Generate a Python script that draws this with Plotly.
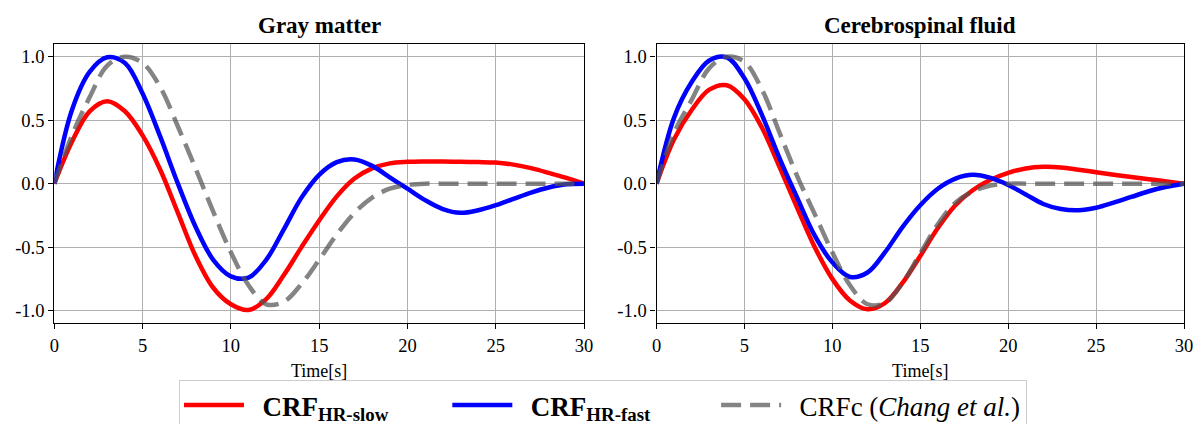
import plotly.graph_objects as go

# ---------------- data ----------------
time_s = list(range(31))

gm_slow = [0.0, 0.33, 0.57, 0.65, 0.57, 0.38, 0.11, -0.23, -0.57, -0.82, -0.95,
           -0.995, -0.91, -0.72, -0.5, -0.29, -0.1, 0.04, 0.12, 0.16, 0.172,
           0.175, 0.175, 0.172, 0.17, 0.166, 0.15, 0.122, 0.085, 0.045, 0.0]
gm_fast = [0.0, 0.58, 0.88, 0.995, 0.95, 0.71, 0.37, 0.0, -0.34, -0.6, -0.73,
           -0.74, -0.6, -0.36, -0.11, 0.07, 0.17, 0.19, 0.14, 0.05, -0.04,
           -0.13, -0.2, -0.23, -0.21, -0.17, -0.12, -0.07, -0.03, -0.005, 0.0]
gm_chang = [0.0, 0.38, 0.68, 0.93, 1.0, 0.95, 0.76, 0.45, 0.12, -0.22, -0.54,
            -0.8, -0.95, -0.93, -0.79, -0.6, -0.4, -0.23, -0.11, -0.04, -0.01,
            0.0, 0.0, 0.0, 0.0, 0.0, 0.0, 0.0, 0.0, 0.0, 0.0]

csf_slow = [0.0, 0.35, 0.58, 0.74, 0.775, 0.665, 0.44, 0.13, -0.19, -0.5, -0.75,
            -0.92, -0.99, -0.94, -0.78, -0.57, -0.35, -0.17, -0.05, 0.03, 0.085,
            0.12, 0.133, 0.128, 0.11, 0.09, 0.07, 0.052, 0.035, 0.018, 0.0]
csf_fast = [0.0, 0.52, 0.8, 0.97, 0.995, 0.83, 0.54, 0.2, -0.11, -0.41, -0.62,
            -0.735, -0.7, -0.54, -0.34, -0.17, -0.04, 0.04, 0.07, 0.045, -0.01,
            -0.085, -0.16, -0.2, -0.21, -0.19, -0.15, -0.105, -0.06, -0.025, 0.0]
csf_chang = [0.0, 0.4, 0.66, 0.91, 1.0, 0.96, 0.74, 0.4, 0.06, -0.24, -0.54,
             -0.8, -0.95, -0.94, -0.78, -0.55, -0.32, -0.15, -0.06, -0.015, 0.0,
             0.0, 0.0, 0.0, 0.0, 0.0, 0.0, 0.0, 0.0, 0.0, 0.0]

panel_titles = ["Gray matter", "Cerebrospinal fluid"]
x_ticks = [0, 5, 10, 15, 20, 25, 30]
y_tick_vals = [-1.0, -0.5, 0.0, 0.5, 1.0]
y_tick_text = ["-1.0", "-0.5", "0.0", "0.5", "1.0"]
series_names = ["<b>CRF<sub>HR-slow</sub></b>",
                "<b>CRF<sub>HR-fast</sub></b>",
                "CRFc (<i>Chang et al.</i>)"]

# ---------------- figure ----------------
W, H = 1199, 424


def px(X):
    return X / W


def py(Y):
    return 1 - Y / H


FONT = "Liberation Serif"
RED = "#ff0000"
BLUE = "#0000ff"
GRAY = "rgba(85,85,85,0.72)"
LEAD = "&nbsp;" * 2
PAD1 = "&nbsp;" * 8
PAD2 = "&nbsp;" * 9

fig = go.Figure()

panels = [(gm_slow, gm_fast, gm_chang, "x", "y"),
          (csf_slow, csf_fast, csf_chang, "x2", "y2")]
for i, (slow, fast, chang, xa, ya) in enumerate(panels):
    show = i == 0
    fig.add_trace(go.Scatter(x=time_s, y=slow, mode="lines", name=LEAD + series_names[0] + PAD1,
                             line=dict(color=RED, width=4.5, shape="spline", smoothing=1.0),
                             xaxis=xa, yaxis=ya, showlegend=show, legendgroup="slow"))
    fig.add_trace(go.Scatter(x=time_s, y=fast, mode="lines", name=LEAD + series_names[1] + PAD2,
                             line=dict(color=BLUE, width=4.5, shape="spline", smoothing=1.0),
                             xaxis=xa, yaxis=ya, showlegend=show, legendgroup="fast"))
    fig.add_trace(go.Scatter(x=time_s, y=chang, mode="lines", name=LEAD + series_names[2],
                             line=dict(color=GRAY, width=4.5, shape="spline", smoothing=1.0,
                                       dash="20px,9px"),
                             xaxis=xa, yaxis=ya, showlegend=show, legendgroup="chang"))

x_dom = [[px(54.3), px(584)], [px(656.5), px(1184)]]
y_dom = [py(323.3), py(44)]

axis_common = dict(showline=True, linecolor="black", linewidth=1.3, mirror=True,
                   showgrid=True, gridcolor="#b0b0b0", gridwidth=1,
                   zeroline=False, ticks="outside", ticklen=5, tickwidth=1.2,
                   tickcolor="black", automargin=False,
                   tickfont=dict(family=FONT, size=18.5, color="black"))

for i in range(2):
    sfx = "" if i == 0 else str(i + 1)
    fig.update_layout(**{
        "xaxis" + sfx: dict(domain=x_dom[i], range=[0, 30], tickvals=x_ticks,
                            anchor="y" + sfx,
                            title=dict(text="Time[s]", font=dict(family=FONT, size=18, color="black"),
                                       standoff=9),
                            **axis_common),
        "yaxis" + sfx: dict(domain=y_dom, range=[-1.1, 1.1], tickvals=y_tick_vals,
                            ticktext=y_tick_text, anchor="x" + sfx, **axis_common),
    })
    fig.add_annotation(text="<b>%s</b>" % panel_titles[i], xref="paper", yref="paper",
                       x=(x_dom[i][0] + x_dom[i][1]) / 2, y=py(25),
                       xanchor="center", yanchor="middle", showarrow=False,
                       font=dict(family=FONT, size=23, color="black"))

fig.update_layout(
    width=W, height=H,
    margin=dict(l=0, r=0, t=0, b=0, autoexpand=False),
    paper_bgcolor="white", plot_bgcolor="white",
    showlegend=True,
    legend=dict(orientation="h", x=px(179), xanchor="left", y=py(380),
                yanchor="top", bgcolor="white", bordercolor="#cccccc", borderwidth=1,
                font=dict(family=FONT, size=27, color="black"),
                itemwidth=60, tracegroupgap=0),
)

fig.write_html("out.html",
               config={"displayModeBar": False},
               post_script="document.body.style.margin='0';"
                           "document.documentElement.style.overflow='hidden';")
